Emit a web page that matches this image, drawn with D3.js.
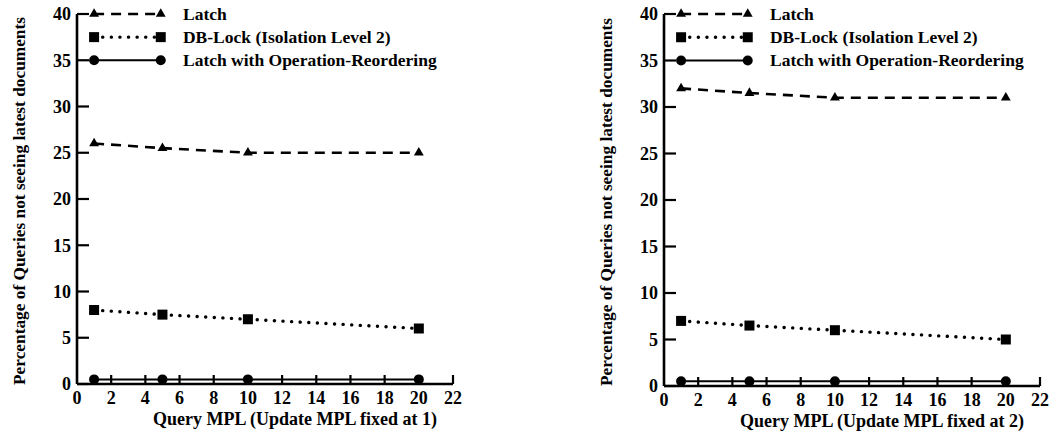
<!DOCTYPE html>
<html>
<head>
<meta charset="utf-8">
<script src="https://cdn.jsdelivr.net/npm/d3@7"></script>
<style>
  body { margin: 0; background: #fff; }
  svg text { font-family: "Liberation Serif", "Times New Roman", serif; font-weight: bold; fill: #000; }
</style>
</head>
<body>
<div id="chart"></div>
<script>
// x positions (Query MPL)
const queryMPL = [1, 5, 10, 20];
const xTicks = [0, 2, 4, 6, 8, 10, 12, 14, 16, 18, 20, 22];
const yTicks = [0, 5, 10, 15, 20, 25, 30, 35, 40];

// update MPL fixed at 1
const latch1 = [26, 25.5, 25, 25];
const dbLock1 = [8, 7.5, 7, 6];
const reorder1 = [0.5, 0.5, 0.5, 0.5];

// update MPL fixed at 2
const latch2 = [32, 31.5, 31, 31];
const dbLock2 = [7, 6.5, 6, 5];
const reorder2 = [0.5, 0.5, 0.5, 0.5];

const seriesNames = ["Latch", "DB-Lock (Isolation Level 2)", "Latch with Operation-Reordering"];
const xTitles = ["Query MPL (Update MPL fixed at 1)", "Query MPL (Update MPL fixed at 2)"];
const yTitle = "Percentage of Queries not seeing latest documents";

const W = 1052, H = 442;
const svg = d3.select("#chart").append("svg").attr("width", W).attr("height", H);

// line style + marker per series
const STYLE = [
  { dash: "10 7", cap: "butt", width: 2.6, marker: "triangle" },
  { dash: "0.1 8.5", cap: "round", width: 3.4, marker: "square" },
  { dash: null, cap: "butt", width: 2, marker: "circle" }
];

const drawMarker = (g, type, x, y) => {
  if (type === "triangle") {
    g.append("path").attr("d", d3.symbol(d3.symbolTriangle, 42)()).attr("transform", `translate(${x},${y})`).attr("fill", "#000");
  } else if (type === "square") {
    g.append("rect").attr("x", x - 5).attr("y", y - 5).attr("width", 10).attr("height", 10).attr("fill", "#000");
  } else {
    g.append("circle").attr("cx", x).attr("cy", y).attr("r", 5).attr("fill", "#000");
  }
};

const drawPanel = (ox, y0, series, xTitle) => {
  const x = d3.scaleLinear().domain([0, 22]).range([ox, ox + 376]);
  const y = d3.scaleLinear().domain([0, 40]).range([y0, 14]);
  const g = svg.append("g");

  // axes lines
  g.append("line").attr("x1", x(0)).attr("x2", x(0)).attr("y1", y(0)).attr("y2", y(40))
    .attr("stroke", "#000").attr("stroke-width", 2.6);
  g.append("line").attr("x1", x(0)).attr("x2", x(22)).attr("y1", y(0)).attr("y2", y(0))
    .attr("stroke", "#000").attr("stroke-width", 2.6);

  // y ticks (inward)
  yTicks.forEach(t => {
    g.append("line").attr("x1", x(0)).attr("x2", x(0) + 12).attr("y1", y(t)).attr("y2", y(t))
      .attr("stroke", "#000").attr("stroke-width", 2.2);
    g.append("text").attr("x", x(0) - 6).attr("y", y(t)).attr("dy", "0.35em")
      .attr("text-anchor", "end").style("font-size", "18px").text(t);
  });
  // x ticks (inward)
  xTicks.forEach(t => {
    if (t > 0) {
      g.append("line").attr("x1", x(t)).attr("x2", x(t)).attr("y1", y(0)).attr("y2", y(0) - 9)
        .attr("stroke", "#000").attr("stroke-width", 2.2);
    }
    g.append("text").attr("x", x(t)).attr("y", y(0) + 20).attr("text-anchor", "middle")
      .style("font-size", "18px").text(t);
  });

  // data lines
  const line = d3.line().x((d, i) => x(queryMPL[i])).y(d => y(d));
  series.forEach((vals, s) => {
    g.append("path").datum(vals).attr("d", line).attr("fill", "none")
      .attr("stroke", "#000").attr("stroke-width", STYLE[s].width)
      .attr("stroke-dasharray", STYLE[s].dash).attr("stroke-linecap", STYLE[s].cap);
    vals.forEach((v, i) => drawMarker(g, STYLE[s].marker, x(queryMPL[i]), y(v)));
  });

  // legend
  const legendY = [40, 37.5, 35];
  seriesNames.forEach((name, s) => {
    const ly = y(legendY[s]);
    g.append("line").attr("x1", x(1)).attr("x2", x(4.9)).attr("y1", ly).attr("y2", ly)
      .attr("stroke", "#000").attr("stroke-width", STYLE[s].width)
      .attr("stroke-dasharray", STYLE[s].dash).attr("stroke-linecap", STYLE[s].cap);
    drawMarker(g, STYLE[s].marker, x(1), ly);
    drawMarker(g, STYLE[s].marker, x(4.9), ly);
    g.append("text").attr("x", x(6.2)).attr("y", ly).attr("dy", "0.33em")
      .style("font-size", "17.5px").text(name);
  });

  // axis titles
  g.append("text").attr("x", x(0) + 218).attr("y", y0 + 41).attr("text-anchor", "middle")
    .style("font-size", "18px").text(xTitle);
  g.append("text").attr("transform", `translate(${ox - 58},${(y0 + 14) / 2 + 2}) rotate(-90)`)
    .attr("text-anchor", "middle").attr("dy", "0.35em")
    .attr("textLength", 368).attr("lengthAdjust", "spacingAndGlyphs")
    .style("font-size", "16px").text(yTitle);
};

drawPanel(77, 384, [latch1, dbLock1, reorder1], xTitles[0]);
drawPanel(664, 386, [latch2, dbLock2, reorder2], xTitles[1]);
</script>
</body>
</html>
